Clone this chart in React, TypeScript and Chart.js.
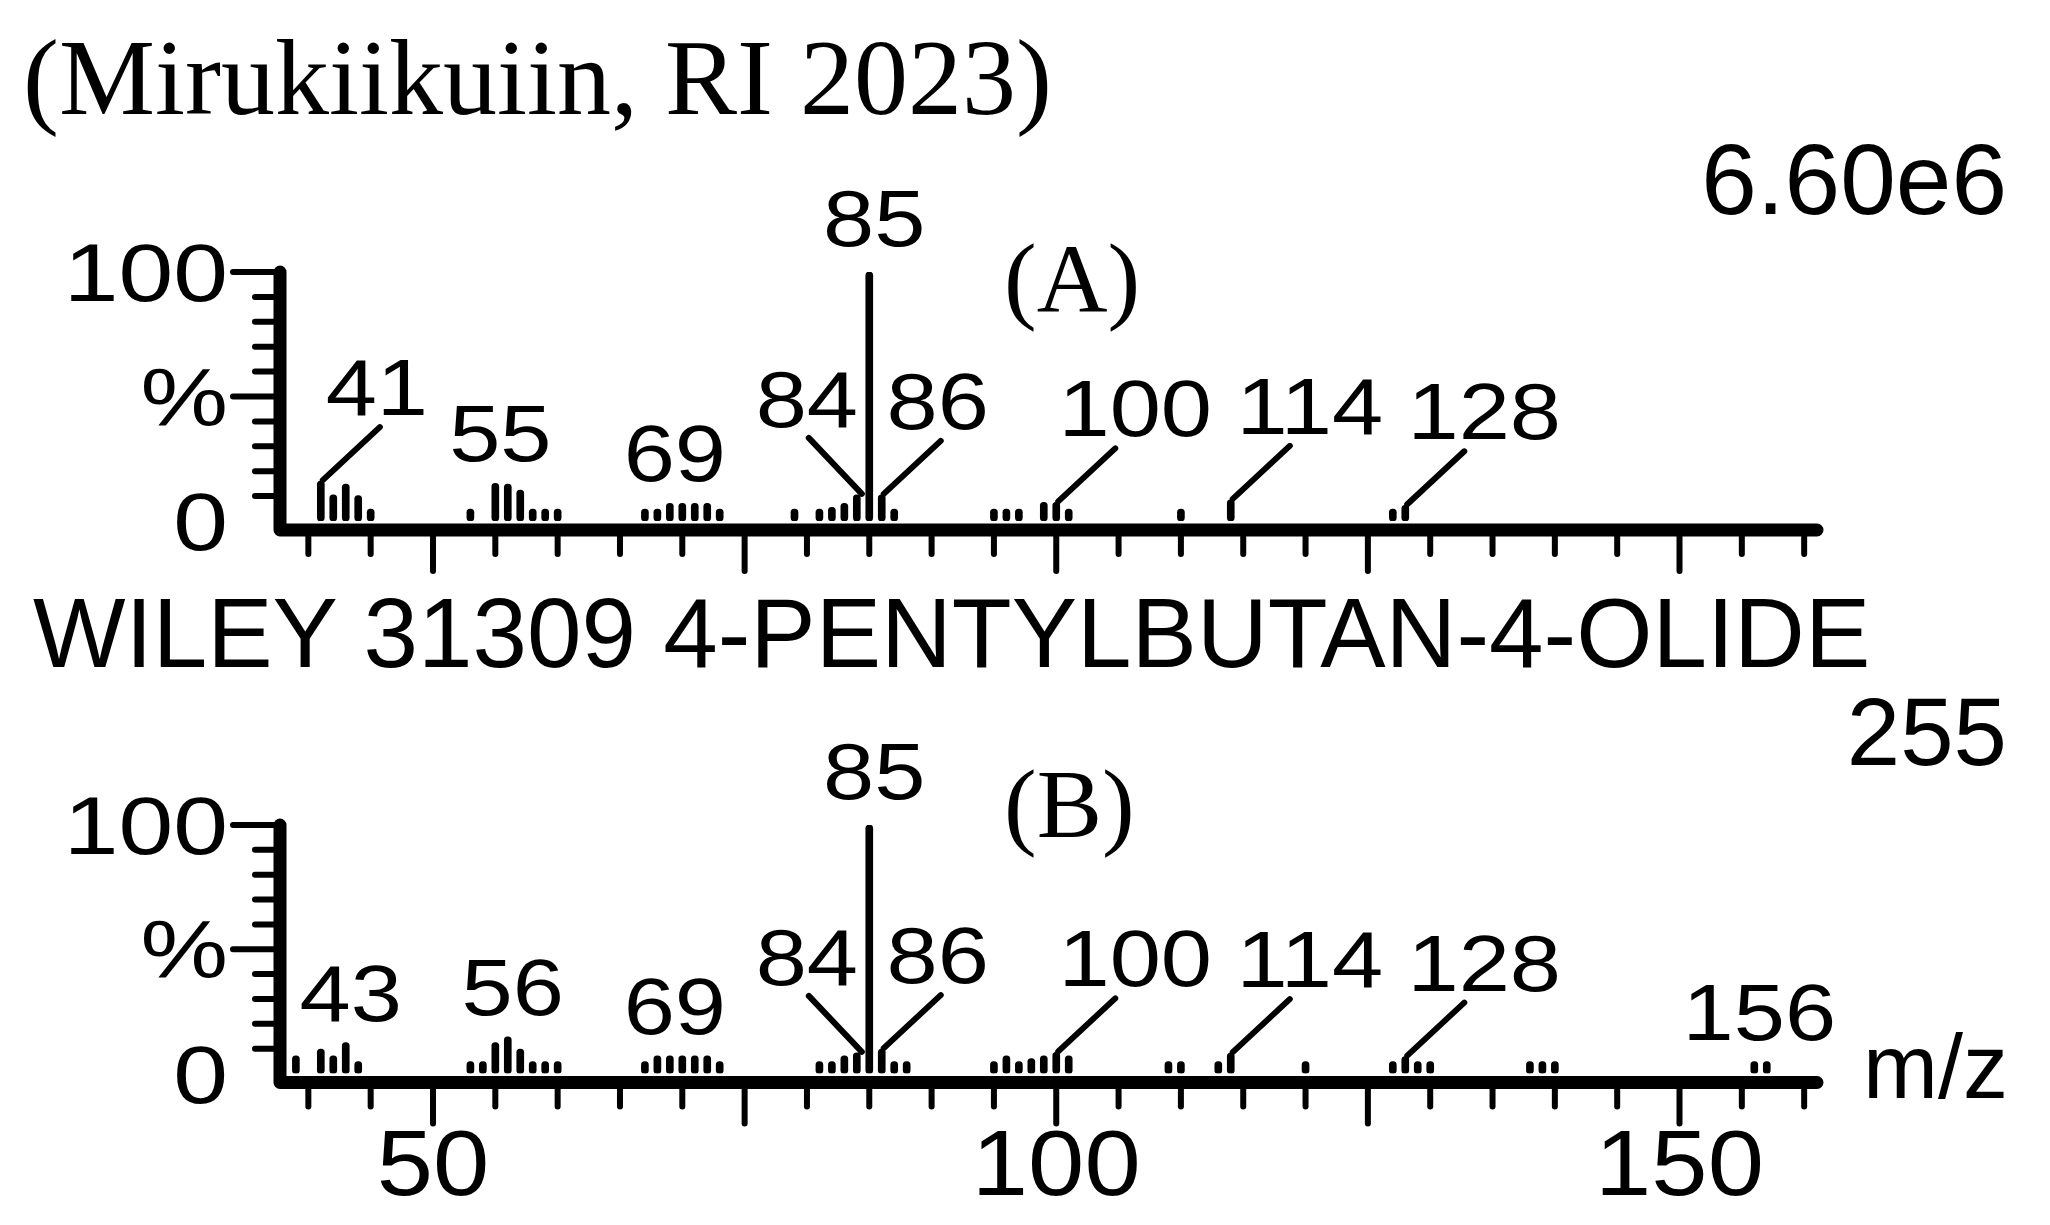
import React, { useEffect, useRef } from 'react';
import { Chart, registerables } from 'chart.js';

Chart.register(...registerables);

// ---------- data ----------
const titleText = '(Mirukiikuiin, RI 2023)';
const libraryText = 'WILEY 31309 4-PENTYLBUTAN-4-OLIDE';
const scaleA = '6.60e6';
const scaleB = '255';
const panelA = '(A)';
const panelB = '(B)';
const xAxisTitle = 'm/z';

const massesA = [41, 42, 43, 44, 45, 53, 55, 56, 57, 58, 59, 60, 67, 68, 69, 70, 71, 72, 73, 79, 81, 82, 83, 84, 85, 86, 87, 95, 96, 97, 99, 100, 101, 110, 114, 127, 128];
const intensitiesA = [16, 10.5, 14.8, 10.2, 4.8, 4.8, 15.1, 14.8, 12.4, 4.8, 4.8, 4.8, 4.8, 4.8, 7.1, 7.1, 7.1, 7.1, 4.8, 4.8, 4.8, 5.5, 7.1, 10.5, 100, 10.5, 4.8, 4.8, 4.8, 4.8, 7.5, 7.5, 4.8, 4.8, 8.5, 4.8, 6.3];
const labeledA = [41, 55, 69, 84, 85, 86, 100, 114, 128];

const massesB = [39, 41, 42, 43, 44, 53, 54, 55, 56, 57, 58, 59, 60, 67, 68, 69, 70, 71, 72, 73, 81, 82, 83, 84, 85, 86, 87, 88, 95, 96, 97, 98, 99, 100, 101, 109, 110, 113, 114, 120, 127, 128, 129, 130, 138, 139, 140, 156, 157];
const intensitiesB = [7.1, 9.8, 7.1, 12.4, 4.8, 4.8, 4.8, 12.4, 14.8, 9.8, 4.8, 4.8, 4.8, 4.8, 7.1, 7.1, 7.1, 7.1, 7.1, 4.8, 4.8, 4.8, 7.1, 8.3, 100, 9.8, 4.8, 4.8, 4.8, 7.1, 4.8, 6, 7.1, 8.5, 7.1, 4.8, 4.8, 4.8, 8.2, 4.8, 4.8, 6.8, 4.8, 4.8, 4.8, 4.8, 4.8, 4.8, 4.8];
const labeledB = [43, 56, 69, 84, 85, 86, 100, 114, 128, 156];

const yTickValues = [10, 20, 30, 40, 50, 60, 70, 80, 90, 100];
const yMajorValues = [50, 100];
const yLabelValues = [100, 50, 0];
const yLabelTexts = ['100', '%', '0'];
const xTickValues = [40, 45, 50, 55, 60, 65, 70, 75, 80, 85, 90, 95, 100, 105, 110, 115, 120, 125, 130, 135, 140, 145, 150, 155, 160];
const xMajorValues = [50, 75, 100, 125, 150];
const xLabelValues = [50, 100, 150];

// ---------- layout / style (not data) ----------
const leaderDir: Record<number, 'left' | 'right'> = { 41: 'right', 84: 'left', 86: 'right', 100: 'right', 114: 'right', 128: 'right' };
const SANS = '"Liberation Sans", Arial, Helvetica, sans-serif';
const SERIF = '"Liberation Serif", "Times New Roman", Times, serif';
const MZ_MIN = 37.726;
const MZ_MAX = 161.03;

function drawText(ctx: CanvasRenderingContext2D, s: string, x: number, y: number, align: CanvasTextAlign, size: number, sx: number) {
  ctx.save();
  ctx.font = `${size}px ${SANS}`;
  ctx.textAlign = align;
  ctx.textBaseline = 'alphabetic';
  ctx.translate(x, y);
  ctx.scale(sx, 1);
  ctx.fillText(s, 0, 0);
  ctx.restore();
}

const spectrumPlugin = {
  id: 'spectrum',
  afterDatasetsDraw(chart: any, _args: any, o: any) {
    const { ctx, chartArea: ca } = chart;
    const xs = chart.scales.x;
    const ys = chart.scales.y;
    const axisY = ca.bottom + 9;
    ctx.save();
    ctx.strokeStyle = '#000';
    ctx.fillStyle = '#000';
    ctx.lineCap = 'round';
    ctx.lineJoin = 'round';

    // y ticks
    ctx.lineWidth = 6;
    for (const v of yTickValues) {
      const py = ys.getPixelForValue(v);
      const len = yMajorValues.includes(v) ? 47 : 25;
      ctx.beginPath();
      ctx.moveTo(ca.left, py);
      ctx.lineTo(ca.left - len, py);
      ctx.stroke();
    }
    // x ticks
    for (const v of xTickValues) {
      const px = xs.getPixelForValue(v);
      const len = xMajorValues.includes(v) ? 41 : 24;
      ctx.beginPath();
      ctx.moveTo(px, axisY);
      ctx.lineTo(px, axisY + len);
      ctx.stroke();
    }
    // axis lines
    ctx.lineWidth = 13;
    ctx.beginPath();
    ctx.moveTo(ca.left, ys.getPixelForValue(100));
    ctx.lineTo(ca.left, axisY);
    ctx.lineTo(ca.right, axisY);
    ctx.stroke();

    // y labels
    yLabelValues.forEach((v, i) => {
      const py = ys.getPixelForValue(v);
      drawText(ctx, yLabelTexts[i], ca.left - 52, py + 29, 'right', 82, 1.2);
    });
    // x labels
    if (o.showXLabels) {
      for (const v of xLabelValues) {
        drawText(ctx, String(v), xs.getPixelForValue(v), axisY + 112, 'center', 92, 1.1);
      }
    }

    // peak labels
    ctx.lineWidth = 6;
    for (const m of o.labeled) {
      const i = o.masses.indexOf(m);
      const val = o.intensities[i];
      const bx = xs.getPixelForValue(m);
      const by = ys.getPixelForValue(val);
      const s = String(m);
      const dir = leaderDir[m];
      if (dir === 'right') {
        const x1 = bx + 59, y1 = by - 54;
        ctx.beginPath();
        ctx.moveTo(bx + 2, by - 1);
        ctx.lineTo(x1, y1);
        ctx.stroke();
        drawText(ctx, s, x1 + (s.length === 3 ? 20 : -3), y1 - 12, 'center', 80, 1.15);
      } else if (dir === 'left') {
        const x1 = bx - 48, y1 = by - 57;
        ctx.beginPath();
        ctx.moveTo(bx + 5, by - 1);
        ctx.lineTo(x1, y1);
        ctx.stroke();
        drawText(ctx, s, x1 - 2, y1 - 11, 'center', 80, 1.15);
      } else {
        drawText(ctx, s, bx + 5, by - (val >= 100 ? 26 : 22), 'center', 80, 1.15);
      }
    }
    ctx.restore();
  },
};

type PanelProps = {
  top: number;
  height: number;
  padTop: number;
  padBottom: number;
  masses: number[];
  intensities: number[];
  labeled: number[];
  showXLabels: boolean;
};

function SpectrumPanel({ top, height, padTop, padBottom, masses, intensities, labeled, showXLabels }: PanelProps) {
  const ref = useRef<HTMLCanvasElement | null>(null);
  useEffect(() => {
    if (!ref.current) return;
    const chart = new Chart(ref.current, {
      type: 'bar',
      data: {
        datasets: [
          {
            data: masses.map((m, i) => ({ x: m, y: intensities[i] })),
            backgroundColor: '#000',
            borderWidth: 0,
            borderRadius: 3.5,
            borderSkipped: false,
            barThickness: 7,
          } as any,
        ],
      },
      options: {
        responsive: false,
        animation: false,
        devicePixelRatio: 1,
        layout: { padding: { left: 280, right: 233, top: padTop, bottom: padBottom } },
        plugins: {
          legend: { display: false },
          tooltip: { enabled: false },
          title: { display: false },
          spectrum: { masses, intensities, labeled, showXLabels },
        } as any,
        scales: {
          x: { type: 'linear', min: MZ_MIN, max: MZ_MAX, display: false, offset: false, bounds: 'data' },
          y: { type: 'linear', min: 0, max: 100, display: false },
        },
      },
      plugins: [spectrumPlugin as any],
    });
    return () => chart.destroy();
  }, []);
  return (
    <canvas
      ref={ref}
      width={2050}
      height={height}
      style={{ position: 'absolute', left: 0, top, width: 2050, height, display: 'block' }}
    />
  );
}

const textBase: React.CSSProperties = {
  position: 'absolute',
  lineHeight: 1,
  whiteSpace: 'nowrap',
  color: '#000',
  margin: 0,
};

export default function App() {
  return (
    <div style={{ position: 'fixed', left: 0, top: 0, width: 2050, height: 1225, background: '#fff', overflow: 'hidden' }}>
      <SpectrumPanel top={150} height={450} padTop={122} padBottom={79} masses={massesA} intensities={intensitiesA} labeled={labeledA} showXLabels={false} />
      <SpectrumPanel top={700} height={525} padTop={125} padBottom={151.5} masses={massesB} intensities={intensitiesB} labeled={labeledB} showXLabels={true} />
      <div style={{ ...textBase, left: 23, top: 24, fontFamily: SERIF, fontSize: 108 }}>{titleText}</div>
      <div style={{ ...textBase, right: 43, top: 129, fontFamily: SANS, fontSize: 100 }}>{scaleA}</div>
      <div style={{ ...textBase, left: 1004, top: 229, fontFamily: SERIF, fontSize: 98 }}>{panelA}</div>
      <div style={{ ...textBase, left: 33, top: 584, fontFamily: SANS, fontSize: 98 }}>{libraryText}</div>
      <div style={{ ...textBase, right: 43, top: 684, fontFamily: SANS, fontSize: 96 }}>{scaleB}</div>
      <div style={{ ...textBase, left: 1004, top: 755, fontFamily: SERIF, fontSize: 98 }}>{panelB}</div>
      <div style={{ ...textBase, left: 1863, top: 1022, fontFamily: SANS, fontSize: 90 }}>{xAxisTitle}</div>
    </div>
  );
}
